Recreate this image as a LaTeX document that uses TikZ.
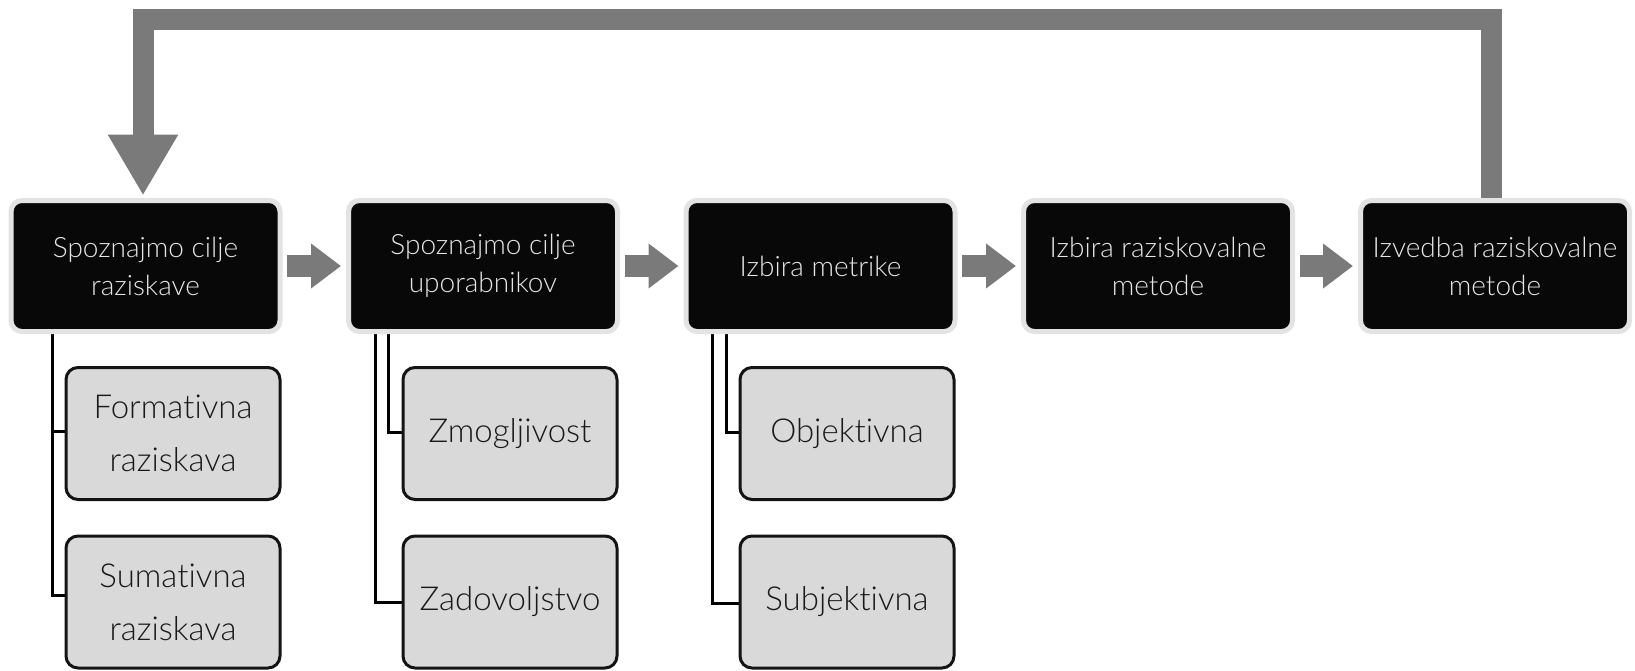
\documentclass[tikz,border=0pt]{standalone}
\usepackage{fontspec}
\setmainfont{Lato Light}[Ligatures={NoCommon,NoRare,NoDiscretionary}]
\usetikzlibrary{arrows.meta,backgrounds,calc}
\definecolor{topfill}{HTML}{080808}
\definecolor{topborder}{HTML}{E3E3E3}
\definecolor{toptext}{HTML}{E6E6E6}
\definecolor{subfill}{HTML}{D9D9D9}
\definecolor{subborder}{HTML}{141414}
\definecolor{arrowgray}{HTML}{7A7A7A}
\begin{document}
\begin{tikzpicture}[x=1pt,y=-1pt,
  topbox/.style={draw=topborder, line width=5pt, fill=topfill, rounded corners=11pt,
    minimum width=269pt, minimum height=131pt, inner sep=0pt, align=center,
    text=toptext, font=\fontsize{28}{38}\selectfont},
  subbox/.style={draw=subborder, line width=3pt, fill=subfill, rounded corners=12pt,
    minimum width=214pt, minimum height=132pt, inner sep=0pt, align=center,
    text=black!90, font=\fontsize{33}{53}\selectfont},
  flowarrow/.style={draw=arrowgray, line width=22pt,
    -{Triangle[width=43pt,length=30pt]}},
  conn/.style={draw=black, line width=3pt},
  loopline/.style={draw=arrowgray, line width=21pt, line join=miter,
    -{Triangle[width=66pt,length=61pt]}}
]
\useasboundingbox (0,0) rectangle (1635,670);

\node[topbox] (t1) at (145.5,266) {Spoznajmo cilje\\raziskave};
\node[topbox] (t2) at (483,266) {Spoznajmo cilje\\uporabnikov};
\node[topbox] (t3) at (820.5,266) {Izbira metrike};
\node[topbox] (t4) at (1158,266) {Izbira raziskovalne\\metode};
\node[topbox] (t5) at (1495,266) {Izvedba raziskovalne\\metode};

\node[subbox] (g1a) at (173,433.5) {Formativna\\raziskava};
\node[subbox] (g1b) at (173,602) {Sumativna\\raziskava};
\node[subbox] (g2a) at (510,433.5) {Zmogljivost};
\node[subbox] (g2b) at (510,602) {Zadovoljstvo};
\node[subbox] (g3a) at (847,433.5) {Objektivna};
\node[subbox] (g3b) at (847,602) {Subjektivna};

\draw[flowarrow] ([xshift=4.5pt]t1.east) -- ([xshift=-5pt]t2.west);
\draw[flowarrow] ([xshift=4.5pt]t2.east) -- ([xshift=-5pt]t3.west);
\draw[flowarrow] ([xshift=4.5pt]t3.east) -- ([xshift=-5pt]t4.west);
\draw[flowarrow] ([xshift=4.5pt]t4.east) -- ([xshift=-5pt]t5.west);

\coordinate (b1) at ([xshift=-2.5pt,yshift=2.5pt]t1.north);
\coordinate (b5) at ([xshift=-4pt]t5.north);
\coordinate (lt) at (b1 |- 0,19);
\draw[loopline] (b5) |- (lt) -- (b1);

\begin{scope}[on background layer]
\fill[white] (0,0) rectangle (1635,670);
\draw[conn] ([xshift=-93.5pt]t1.south) |- ([yshift=2.5pt]g1a.west);
\draw[conn] ([xshift=-93.5pt]t1.south) |- ([yshift=7pt]g1b.west);
\draw[conn] ([xshift=-94.5pt]t2.south) |- ([yshift=1.5pt]g2a.west);
\draw[conn] ([xshift=-107.5pt]t2.south) |- (g2b.west);
\draw[conn] ([xshift=-94.5pt]t3.south) |- ([yshift=1.5pt]g3a.west);
\draw[conn] ([xshift=-108pt]t3.south) |- ([yshift=-1pt]g3b.west);
\end{scope}
\end{tikzpicture}
\end{document}
